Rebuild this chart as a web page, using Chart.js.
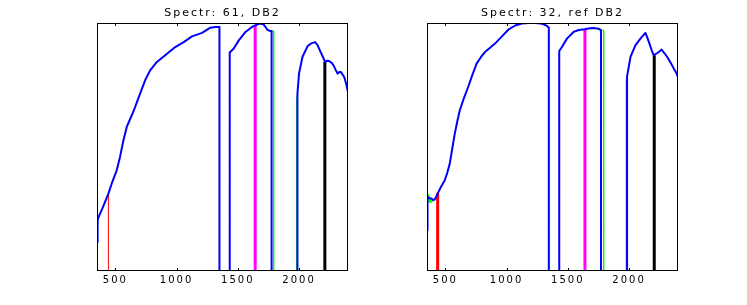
<!DOCTYPE html>
<html>
<head>
<meta charset="utf-8">
<script src="https://cdn.jsdelivr.net/npm/chart.js@4/dist/chart.umd.min.js"></script>
<style>
  body { margin: 0; background: #fff; width: 747px; height: 305px; overflow: hidden; }
  .plot { position: absolute; top: 0; width: 321px; height: 305px; }
  #leftBox { left: 62px; }
  #rightBox { left: 392px; }
</style>
</head>
<body>
<div class="plot" id="leftBox"><canvas id="leftChart" width="321" height="305"></canvas></div>
<div class="plot" id="rightBox"><canvas id="rightChart" width="321" height="305"></canvas></div>
<script>
// ---- data ----
const xTicks = [500, 1000, 1500, 2000];

// left panel: Spectr 61
const leftWl = [350, 355, 361, 400, 443, 470, 511, 538, 566, 593, 634, 661, 702, 743, 784, 839, 907, 989,
  1058, 1126, 1208, 1276, 1317, 1339, 1350, 1350, 1434, 1434, 1467, 1508, 1563, 1610, 1645, 1680, 1708,
  1725, 1741, 1760, 1776, 1776, 1987, 1987, 2000, 2028, 2069, 2100, 2131, 2150, 2164, 2192, 2213, 2230,
  2246, 2265, 2282, 2300, 2315, 2330, 2342, 2369, 2385, 2400];
const leftBlue = [0.117, 0.205, 0.215, 0.26, 0.312, 0.352, 0.406, 0.46, 0.527, 0.581, 0.628, 0.661, 0.715,
  0.769, 0.809, 0.843, 0.870, 0.903, 0.923, 0.946, 0.960, 0.981, 0.984, 0.984, 0.984, 0, 0, 0.881, 0.897,
  0.930, 0.964, 0.982, 0.991, 0.998, 0.995, 0.985, 0.973, 0.968, 0.968, 0, 0, 0.715, 0.796, 0.863, 0.906,
  0.918, 0.923, 0.912, 0.897, 0.866, 0.843, 0.848, 0.847, 0.840, 0.829, 0.810, 0.796, 0.802, 0.802, 0.782,
  0.755, 0.722];
const leftGreenWl = [350, 356, null, 1432, 1440, null, 1776, 1793, 1793, 1979, 1979, 1987];
const leftGreen = [0.205, 0.21, null, 0.876, 0.884, null, 0.968, 0.968, 0, 0, 0.688, 0.715];
const leftMarkWl = [443, 1642, 2211];
const leftMarkTop = [0.312, 0.991, 0.843];

// right panel: Spectr 32
const rightWl = [350, 354, 360, 370, 386, 400, 413, 425, 440, 465, 495, 515, 536, 555, 577, 598, 618, 650,
  686, 720, 755, 790, 823, 860, 905, 960, 1014, 1070, 1124, 1180, 1233, 1280, 1301, 1330, 1345, 1345, 1430,
  1430, 1452, 1493, 1547, 1590, 1637, 1680, 1711, 1750, 1771, 1771, 1984, 1984, 2012, 2052, 2093, 2134,
  2150, 2167, 2185, 2202, 2235, 2266, 2290, 2312, 2340, 2366, 2385, 2400];
const rightBlue = [0.164, 0.292, 0.298, 0.293, 0.292, 0.286, 0.288, 0.30, 0.315, 0.34, 0.366, 0.395, 0.433,
  0.49, 0.554, 0.605, 0.648, 0.695, 0.742, 0.79, 0.836, 0.862, 0.883, 0.898, 0.917, 0.945, 0.973, 0.99,
  0.998, 1.0, 1.0, 0.998, 0.995, 0.988, 0.981, 0, 0, 0.887, 0.903, 0.937, 0.964, 0.972, 0.975, 0.979, 0.980,
  0.977, 0.971, 0, 0, 0.785, 0.863, 0.910, 0.937, 0.960, 0.94, 0.917, 0.89, 0.870, 0.88, 0.893, 0.878,
  0.863, 0.84, 0.816, 0.80, 0.782];
const rightGreenWl = [350, 351, 353, 355, 357, 359, 362, 365, 368, 372, 376, 381, 387, 395, 405, null,
  1771, 1793, 1793, 1976, 1976, 1984];
const rightGreen = [0.36, 0.30, 0.33, 0.28, 0.32, 0.29, 0.31, 0.28, 0.30, 0.275, 0.29, 0.275, 0.285, 0.28,
  0.285, null, 0.971, 0.971, 0, 0, 0.77, 0.785];
const rightMarkWl = [437, 1640, 2206];
const rightMarkTop = [0.315, 0.975, 0.870];

const markColors = ["#ff0000", "#ff00ff", "#000000"];

// ---- helpers ----
function pts(xs, ys) {
  return xs.map((x, i) => ({ x: x === null ? NaN : x, y: ys[i] }));
}

// MATLAB-like box with inward ticks, plus wide-ish lettering
const boxPlugin = {
  id: "box",
  beforeDraw(chart) {
    chart.ctx.letterSpacing = "2px";
  },
  afterDatasetsDraw(chart) {
    const { ctx, chartArea: a, scales } = chart;
    ctx.save();
    ctx.strokeStyle = "#000";
    ctx.lineWidth = 1;
    ctx.strokeRect(a.left + 0.5, a.top + 0.5, a.right - a.left - 1, a.bottom - a.top - 1);
    ctx.beginPath();
    xTicks.forEach(v => {
      const px = Math.round(scales.x.getPixelForValue(v)) + 0.5;
      ctx.moveTo(px, a.bottom);
      ctx.lineTo(px, a.bottom - 3);
      ctx.moveTo(px, a.top);
      ctx.lineTo(px, a.top + 3);
    });
    ctx.stroke();
    ctx.restore();
  }
};

function makeChart(id, title, wl, blue, gWl, green, mWl, mTop, redWidth) {
  const datasets = [
    { data: pts(wl, blue), borderColor: "#0000ff", borderWidth: 2 },
    ...mWl.map((w, i) => ({
      data: [{ x: w, y: 0 }, { x: w, y: mTop[i] }],
      borderColor: markColors[i],
      borderWidth: i === 0 ? redWidth : 3
    })),
    { data: pts(gWl, green), borderColor: "#00ff00", borderWidth: 1 }
  ];
  datasets.forEach(d => Object.assign(d, {
    showLine: true, pointRadius: 0, spanGaps: false, tension: 0, fill: false,
    borderJoinStyle: "round"
  }));

  return new Chart(document.getElementById(id), {
    type: "scatter",
    data: { datasets },
    options: {
      responsive: false,
      animation: false,
      devicePixelRatio: 1,
      events: [],
      layout: { padding: { left: 35, right: 35, top: 0, bottom: 0 } },
      plugins: {
        legend: { display: false },
        tooltip: { enabled: false },
        title: {
          display: true,
          text: title,
          color: "#000",
          font: { family: "DejaVu Sans", size: 11, weight: "normal", lineHeight: 1.2 },
          padding: { top: 7, bottom: 2.8 }
        }
      },
      scales: {
        x: {
          type: "linear",
          min: 350,
          max: 2400,
          afterBuildTicks: s => { s.ticks = xTicks.map(v => ({ value: v })); },
          afterFit: s => { s.height = 34; },
          grid: { display: false, drawTicks: false },
          border: { display: false },
          ticks: {
            color: "#000",
            font: { family: "DejaVu Sans", size: 10 },
            padding: 3,
            autoSkip: false,
            maxRotation: 0,
            callback: v => String(v)
          }
        },
        y: { display: false, min: 0, max: 1 }
      }
    },
    plugins: [boxPlugin]
  });
}

makeChart("leftChart", "Spectr: 61, DB2", leftWl, leftBlue, leftGreenWl, leftGreen,
  leftMarkWl, leftMarkTop, 1);
makeChart("rightChart", "Spectr: 32, ref DB2", rightWl, rightBlue, rightGreenWl, rightGreen,
  rightMarkWl, rightMarkTop, 3);
</script>
</body>
</html>
